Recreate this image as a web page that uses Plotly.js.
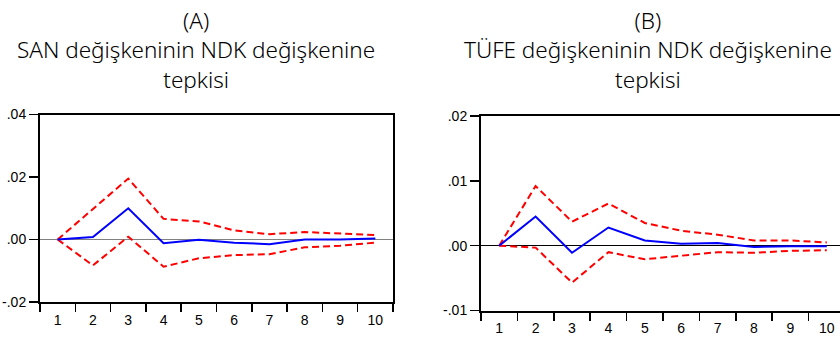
<!DOCTYPE html>
<html><head><meta charset="utf-8">
<script src="https://cdn.plot.ly/plotly-3.0.1.min.js"></script>
<style>html,body{margin:0;padding:0;overflow:hidden;background:#fff;width:840px;height:339px}</style>
</head><body><div id="chart"></div>
<script>
const periods = ['1','2','3','4','5','6','7','8','9','10'];
// (A) SAN response to NDK
const sanResp  = [0, 0.0008, 0.0100, -0.0012, -0.0001, -0.0010, -0.0015, 0.0000, 0.0000, 0.0003];
const sanUpper = [0, 0.0098, 0.0195, 0.0066, 0.0058, 0.0029, 0.0017, 0.0024, 0.0020, 0.0014];
const sanLower = [0, -0.0083, 0.0009, -0.0087, -0.0060, -0.0050, -0.0047, -0.0025, -0.0020, -0.0010];
// (B) TÜFE response to NDK
const tufeResp  = [0, 0.0045, -0.0011, 0.0028, 0.0008, 0.0003, 0.0004, -0.0002, -0.0001, -0.0001];
const tufeUpper = [0, 0.0092, 0.0037, 0.0065, 0.0035, 0.0023, 0.0017, 0.0008, 0.0008, 0.0005];
const tufeLower = [0, -0.0003, -0.0057, -0.0010, -0.0021, -0.0016, -0.0010, -0.0011, -0.0008, -0.0007];
const yValsA = [-0.02, 0, 0.02, 0.04];
const yTextA = ['-.02', '.00', '.02', '.04'];
const yValsB = [-0.01, 0, 0.01, 0.02];
const yTextB = ['-.01', '.00', '.01', '.02'];
const titleA = '(A)<br>SAN değişkeninin NDK değişkenine<br>tepkisi';
const titleB = '(B)<br>TÜFE değişkeninin NDK değişkenine<br>tepkisi';

const W = 850, H = 339;
const blue = {color: '#0000ff', width: 2};
const red = {color: '#ff0000', width: 2, dash: '7px,4px'};
function tr(y, line, xa, ya) {
  return {x: periods, y: y, type: 'scatter', mode: 'lines', line: line, xaxis: xa, yaxis: ya, hoverinfo: 'skip', showlegend: false};
}
const data = [
  tr(sanUpper, red, 'x', 'y'), tr(sanLower, red, 'x', 'y'), tr(sanResp, blue, 'x', 'y'),
  tr(tufeUpper, red, 'x2', 'y2'), tr(tufeLower, red, 'x2', 'y2'), tr(tufeResp, blue, 'x2', 'y2')
];
const tickFont = {family: 'Liberation Sans, Arial, sans-serif', size: 14, color: '#000'};
function xax(d) {
  return {domain: d, type: 'category', range: [-0.5, 9.5], tickson: 'boundaries', ticks: 'outside', ticklen: 8, tickwidth: 1.5, tickcolor: '#000',
    ticklabelstandoff: 4,
    showline: true, linecolor: '#000', linewidth: 2, mirror: true, showgrid: false, zeroline: false,
    tickfont: tickFont, fixedrange: true};
}
function yax(d, r, tv, tt, zc, zw) {
  return {domain: d, range: r, tickvals: tv, ticktext: tt, ticks: 'outside', ticklen: 9, tickwidth: 1.5, tickcolor: '#000',
    showline: true, linecolor: '#000', linewidth: 2, mirror: true, showgrid: false,
    zeroline: true, zerolinecolor: zc, zerolinewidth: zw, tickfont: tickFont, fixedrange: true};
}
const titleFont = {family: 'Noto Sans, Lato, sans-serif', size: 22.5, color: '#000', weight: 300};
const layout = {
  width: W, height: H,
  margin: {l: 0, r: 0, t: 0, b: 0, pad: 0},
  paper_bgcolor: '#fff', plot_bgcolor: '#fff',
  showlegend: false,
  xaxis: Object.assign(xax([40/W, 393/W]), {anchor: 'y'}),
  yaxis: Object.assign(yax([(H-302)/H, (H-114.5)/H], [-0.02, 0.04], yValsA, yTextA, '#808080', 1.5), {anchor: 'x'}),
  xaxis2: Object.assign(xax([481/W, 845/W]), {anchor: 'y2'}),
  yaxis2: Object.assign(yax([(H-310.5)/H, (H-116)/H], [-0.01, 0.02], yValsB, yTextB, '#000', 1), {anchor: 'x2'}),
  annotations: [
    {text: titleA, xref: 'paper', yref: 'paper', x: 196/W, y: 1 - 3/H, xanchor: 'center', yanchor: 'top', showarrow: false,
     font: titleFont, align: 'center'},
    {text: titleB, xref: 'paper', yref: 'paper', x: 648/W, y: 1 - 3/H, xanchor: 'center', yanchor: 'top', showarrow: false,
     font: titleFont, align: 'center'}
  ]
};
Plotly.newPlot('chart', data, layout, {staticPlot: true, displayModeBar: false});
</script></body></html>
